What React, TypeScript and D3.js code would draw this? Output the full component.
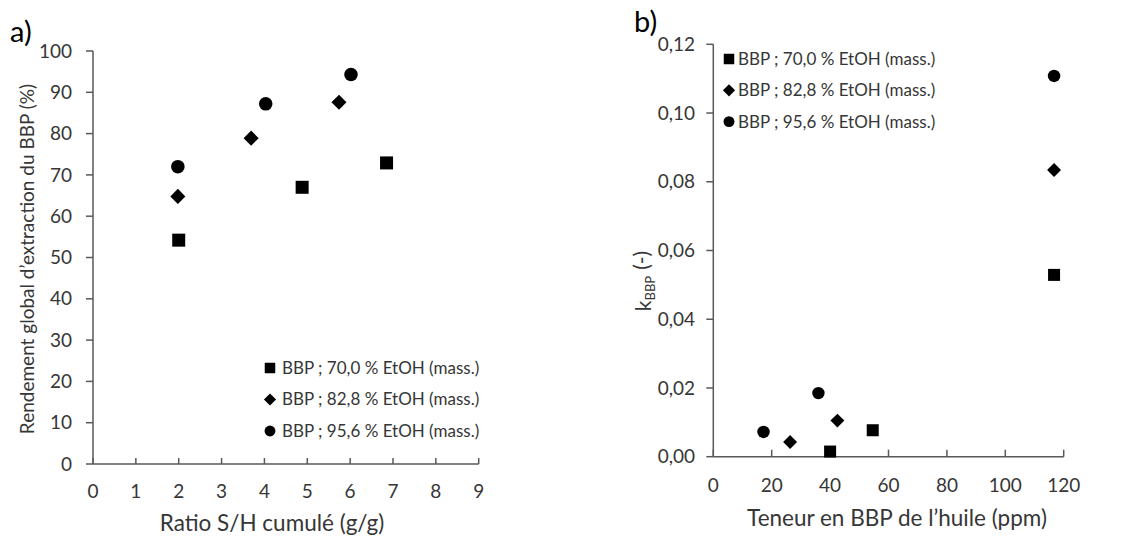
import React from "react";
import * as d3 from "d3";

// Panel a data: Ratio S/H cumulé (g/g) vs Rendement (%)
const aSquareX = [2.0, 4.88, 6.85];
const aSquareY = [54.2, 67.0, 72.9];
const aDiamondX = [1.98, 3.69, 5.74];
const aDiamondY = [64.8, 78.9, 87.6];
const aCircleX = [1.98, 4.03, 6.02];
const aCircleY = [72.0, 87.2, 94.3];

// Panel b data: Teneur en BBP (ppm) vs k_BBP
const bSquareX = [40, 54.6, 116.7];
const bSquareY = [0.0015, 0.0077, 0.0529];
const bDiamondX = [26.3, 42.5, 116.7];
const bDiamondY = [0.0043, 0.0105, 0.0834];
const bCircleX = [17.2, 36.0, 116.7];
const bCircleY = [0.0072, 0.0185, 0.1108];

const aXTicks = [0, 1, 2, 3, 4, 5, 6, 7, 8, 9];
const aYTicks = [0, 10, 20, 30, 40, 50, 60, 70, 80, 90, 100];
const bXTicks = [0, 20, 40, 60, 80, 100, 120];
const bYTicks = [0, 0.02, 0.04, 0.06, 0.08, 0.1, 0.12];

const legendLabels = [
  "BBP ; 70,0 % EtOH (mass.)",
  "BBP ; 82,8 % EtOH (mass.)",
  "BBP ; 95,6 % EtOH (mass.)",
];
const markerKinds = ["square", "diamond", "circle"];

const FONT = "Lato, 'Open Sans', sans-serif";
const TXT = "#363636";
const AX = "#595959";
const TICK_FS = 19;
const TITLE_FS = 22.5;
const LEG_FS = 17;

function Marker({ kind, x, y, s }: { kind: string; x: number; y: number; s: number }) {
  if (kind === "square")
    return <rect x={x - s / 2} y={y - s / 2} width={s} height={s} fill="#000" />;
  if (kind === "diamond") {
    const r = s * 0.58;
    return (
      <path d={`M${x},${y - r}L${x + r},${y}L${x},${y + r}L${x - r},${y}Z`} fill="#000" />
    );
  }
  return <circle cx={x} cy={y} r={s * 0.52} fill="#000" />;
}

export default function App() {
  const ax = d3.scaleLinear().domain([0, 9]).range([93, 478.7]);
  const ay = d3.scaleLinear().domain([0, 100]).range([464, 51]);
  const bx = d3.scaleLinear().domain([0, 120]).range([713.3, 1063.7]);
  const by = d3.scaleLinear().domain([0, 0.12]).range([456.7, 44.3]);
  const fmtB = (v: number) => d3.format(".2f")(v).replace(".", ",");

  const aSeries = [
    { kind: "square", xs: aSquareX, ys: aSquareY },
    { kind: "diamond", xs: aDiamondX, ys: aDiamondY },
    { kind: "circle", xs: aCircleX, ys: aCircleY },
  ];
  const bSeries = [
    { kind: "square", xs: bSquareX, ys: bSquareY },
    { kind: "diamond", xs: bDiamondX, ys: bDiamondY },
    { kind: "circle", xs: bCircleX, ys: bCircleY },
  ];

  return (
    <svg
      width={1125}
      height={538}
      style={{ position: "absolute", left: 0, top: 0, background: "#fff" }}
      fontFamily={FONT}
    >
      <rect width={1125} height={538} fill="#fff" />
      {/* ===== Panel a ===== */}
      <text x={10} y={42} fontSize={29} fill="#000">a)</text>
      <line x1={ax(0)} x2={ax(0)} y1={ay(100)} y2={ay(0)} stroke={AX} strokeWidth={1.5} />
      <line x1={ax(0)} x2={ax(9)} y1={ay(0)} y2={ay(0)} stroke={AX} strokeWidth={1.5} />
      {aYTicks.map((t) => (
        <g key={"ay" + t}>
          <line x1={ax(0) - 7} x2={ax(0)} y1={ay(t)} y2={ay(t)} stroke={AX} strokeWidth={1.5} />
          <text x={72} y={ay(t)} dy="0.35em" textAnchor="end" fontSize={TICK_FS} fill={TXT}>
            {t}
          </text>
        </g>
      ))}
      {aXTicks.map((t) => (
        <g key={"ax" + t}>
          <line x1={ax(t)} x2={ax(t)} y1={ay(0)} y2={ay(0) - 6} stroke={AX} strokeWidth={1.5} />
          <text x={ax(t)} y={491} dy="0.35em" textAnchor="middle" fontSize={TICK_FS} fill={TXT}>
            {t}
          </text>
        </g>
      ))}
      <text
        transform="translate(27,259) rotate(-90)"
        textAnchor="middle"
        dy="0.35em"
        fontSize={19}
        fill={TXT}
      >
        Rendement global d’extraction du BBP (%)
      </text>
      <text x={272} y={523} dy="0.35em" textAnchor="middle" fontSize={TITLE_FS} fill={TXT}>
        Ratio S/H cumulé (g/g)
      </text>
      {aSeries.map((s) =>
        s.xs.map((v, i) => (
          <Marker key={s.kind + "a" + i} kind={s.kind} x={ax(v)} y={ay(s.ys[i])} s={13} />
        ))
      )}
      {legendLabels.map((l, i) => (
        <g key={"la" + i}>
          <Marker kind={markerKinds[i]} x={270} y={368 + i * 31.5} s={10.5} />
          <text x={282} y={368 + i * 31.5} dy="0.35em" fontSize={LEG_FS} fill={TXT}>
            {l}
          </text>
        </g>
      ))}

      {/* ===== Panel b ===== */}
      <text x={634} y={32} fontSize={29} fill="#000">b)</text>
      <line x1={bx(0)} x2={bx(0)} y1={by(0.12)} y2={by(0)} stroke={AX} strokeWidth={1.5} />
      <line x1={bx(0)} x2={bx(120)} y1={by(0)} y2={by(0)} stroke={AX} strokeWidth={1.5} />
      {bYTicks.map((t) => (
        <g key={"by" + t}>
          <line x1={bx(0) - 7} x2={bx(0)} y1={by(t)} y2={by(t)} stroke={AX} strokeWidth={1.5} />
          <text x={695} y={by(t)} dy="0.35em" textAnchor="end" fontSize={TICK_FS} fill={TXT}>
            {fmtB(t)}
          </text>
        </g>
      ))}
      {bXTicks.map((t) => (
        <g key={"bx" + t}>
          <line x1={bx(t)} x2={bx(t)} y1={by(0)} y2={by(0) - 7} stroke={AX} strokeWidth={1.5} />
          <text x={bx(t)} y={485} dy="0.35em" textAnchor="middle" fontSize={TICK_FS} fill={TXT}>
            {t}
          </text>
        </g>
      ))}
      <text
        transform="translate(644,281) rotate(-90)"
        textAnchor="middle"
        dy="0.35em"
        fontSize={21}
        fill={TXT}
      >
        <tspan>k</tspan>
        <tspan dy="0.3em" fontSize={13}>BBP</tspan>
        <tspan dy="-0.3em" dx="6">(-)</tspan>
      </text>
      <text x={897} y={518} dy="0.35em" textAnchor="middle" fontSize={TITLE_FS} fill={TXT}>
        Teneur en BBP de l’huile (ppm)
      </text>
      {bSeries.map((s) =>
        s.xs.map((v, i) => (
          <Marker key={s.kind + "b" + i} kind={s.kind} x={bx(v)} y={by(s.ys[i])} s={12} />
        ))
      )}
      {legendLabels.map((l, i) => (
        <g key={"lb" + i}>
          <Marker kind={markerKinds[i]} x={729} y={59 + i * 31.3} s={10.5} />
          <text x={738} y={59 + i * 31.3} dy="0.35em" fontSize={LEG_FS} fill={TXT}>
            {l}
          </text>
        </g>
      ))}
    </svg>
  );
}
